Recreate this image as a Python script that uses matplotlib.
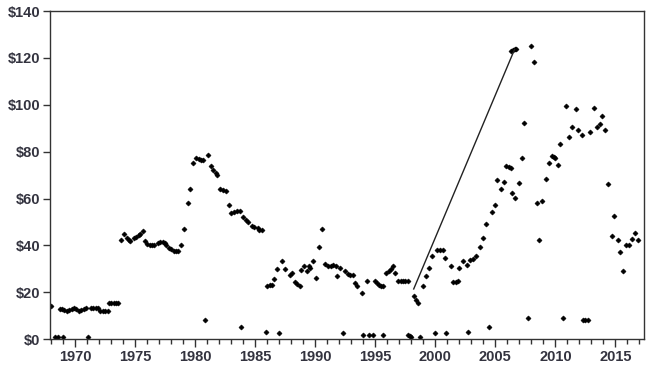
import matplotlib
matplotlib.use("Agg")
import matplotlib.pyplot as plt
from matplotlib.ticker import MultipleLocator, FuncFormatter

# Main price series (year, price in $)
years = [1968.0, 1968.7, 1968.9, 1969.1, 1969.3, 1969.5, 1969.7, 1969.9, 1970.1, 1970.3,
         1970.5, 1970.7, 1970.9, 1971.3, 1971.5, 1971.7, 1971.9, 1972.1, 1972.3, 1972.5,
         1972.7, 1972.8, 1973.0, 1973.2, 1973.4, 1973.6, 1973.85, 1974.1, 1974.3, 1974.5,
         1974.6, 1974.9, 1975.1, 1975.3, 1975.4, 1975.65, 1975.8, 1976.0, 1976.2, 1976.4,
         1976.6, 1976.9, 1977.1, 1977.3, 1977.5, 1977.6, 1977.8, 1978.0, 1978.2, 1978.4,
         1978.6, 1978.85, 1979.07, 1979.4, 1979.6, 1979.82, 1980.1, 1980.3, 1980.5, 1980.65,
         1981.07, 1981.35, 1981.5, 1981.7, 1981.8, 1982.1, 1982.3, 1982.6, 1982.8, 1983.0,
         1983.2, 1983.5, 1983.7, 1984.0, 1984.2, 1984.4, 1984.7, 1984.9, 1985.2, 1985.35,
         1985.6, 1986.0, 1986.2, 1986.4, 1986.6, 1986.8, 1987.25, 1987.5, 1987.9, 1988.1,
         1988.3, 1988.5, 1988.7, 1988.85, 1989.1, 1989.3, 1989.5, 1989.6, 1989.8, 1990.05,
         1990.3, 1990.55, 1990.8, 1991.05, 1991.3, 1991.5, 1991.7, 1991.85, 1992.05, 1992.5,
         1992.7, 1992.9, 1993.1, 1993.3, 1993.5, 1993.85, 1994.27, 1994.95, 1995.1, 1995.3,
         1995.5, 1995.65, 1995.9, 1996.1, 1996.3, 1996.5, 1996.6, 1996.9, 1997.1, 1997.3,
         1997.5, 1997.7, 1998.2, 1998.4, 1998.56, 1999.0, 1999.2, 1999.5, 1999.7, 2000.1,
         2000.4, 2000.65, 2000.8, 2001.3, 2001.5, 2001.7, 2001.9, 2002.0, 2002.3, 2002.6,
         2002.9, 2003.1, 2003.4, 2003.75, 2004.0, 2004.2, 2004.7, 2004.96, 2005.15, 2005.5,
         2005.7, 2005.9, 2006.1, 2006.3, 2006.4, 2006.6, 2006.3, 2006.45, 2006.6, 2006.7,
         2007.0, 2007.2, 2007.4, 2007.96, 2008.2, 2008.5, 2008.65, 2008.9, 2009.2, 2009.5,
         2009.7, 2009.85, 2010.0, 2010.2, 2010.4, 2010.9, 2011.15, 2011.4, 2011.7, 2011.9,
         2012.2, 2012.9, 2013.2, 2013.45, 2013.7, 2013.9, 2014.1, 2014.4, 2014.7, 2014.9,
         2015.2, 2015.4, 2015.65, 2015.9, 2016.1, 2016.35, 2016.6, 2016.9]
prices = [14, 13, 12.8, 12.3, 12, 12.3, 13, 13.2, 12.8, 12.2,
          12.4, 13, 13.3, 13.3, 13.4, 13.3, 13.1, 12.2, 12, 12,
          12.1, 15.2, 15.4, 15.4, 15.4, 15.3, 42.4, 45, 43, 42.5,
          41.7, 43, 43.6, 44.5, 45, 46.3, 41.7, 40.5, 40, 40,
          40.2, 41, 41.3, 41.3, 41, 40, 39, 38.4, 37.8, 37.8,
          37.8, 40, 47.1, 58.1, 64.1, 75.2, 77.5, 76.8, 76.5, 76.5,
          78.5, 73.8, 72, 71, 70, 64, 63.5, 63, 57.4, 54,
          54.2, 54.5, 54.5, 52, 51, 50, 48.4, 47.8, 47.4, 46.4,
          46.4, 22.5, 23, 23.2, 25.8, 30, 33.2, 30, 27.5, 28.3,
          24.2, 23.5, 22.8, 29.3, 31, 29.2, 31, 30.5, 33.2, 26,
          39.1, 47.1, 32, 31, 31.2, 31.5, 31.2, 27, 30.5, 29,
          28, 27.5, 27.3, 24, 22.5, 19.7, 25, 25, 24, 23,
          22.8, 22.8, 28.2, 29, 30, 31, 28.2, 25, 25, 25,
          25, 25, 18.2, 16.5, 15.6, 22.5, 26.8, 30.3, 35.3, 38.2,
          38.2, 38.2, 34.6, 31, 24.2, 24.5, 25, 30.3, 33.2, 31.7,
          33.9, 34.4, 35.3, 39.5, 43.2, 49.3, 54.1, 57.4, 68, 64.1,
          67, 74, 73.5, 73, 62.4, 60.3, 123, 123.5, 124, 123.8,
          66.7, 77.3, 92.3, 125.3, 118.3, 58, 42.1, 59, 68.4, 75.2,
          78.3, 77.8, 77.3, 74.2, 83.3, 99.4, 86.3, 90.4, 98.3, 89.4,
          87.3, 88.5, 98.7, 90.6, 91.6, 95.4, 89.4, 66.4, 44.1, 52.4,
          42.1, 37.2, 29.2, 40, 40, 42.9, 45.3, 42.1]

# Low-value points near the bottom
low_years = [1968.3, 1968.6, 1969.0, 1971.07, 1980.85, 1983.85, 1985.9, 1987.0, 1992.3, 1994.0,
             1994.5, 1994.8, 1995.65, 1997.7, 1997.9, 1998.0, 1998.7, 2000.0, 2000.9, 2002.7,
             2004.45, 2007.7, 2010.65, 2012.3, 2012.5, 2012.7]
low_prices = [0.9, 0.9, 0.9, 1.0, 8.0, 5.1, 3.2, 2.8, 2.8, 1.8,
              1.8, 1.8, 1.8, 1.8, 1.2, 0.9, 0.7, 2.8, 2.8, 2.9,
              5.0, 9.0, 9.0, 8.0, 8.0, 8.0]

# Connecting line
line_years = [1998.2, 2006.6]
line_prices = [21.4, 123.6]

fig = plt.figure(figsize=(6.5, 3.69), dpi=100)
ax = fig.add_axes([0.077, 0.081, 0.914, 0.889])

mk = dict(marker='D', linestyle='none', color='black', markersize=2.6, markeredgewidth=0.4)
ax.plot(years, prices, **mk)
ax.plot(low_years, low_prices, **mk)
ax.plot(line_years, line_prices, color='#222222', linewidth=1.0)

ax.set_xlim(1967.9, 2017.4)
ax.set_ylim(0, 140)
ax.xaxis.set_major_locator(MultipleLocator(5))
ax.xaxis.set_minor_locator(MultipleLocator(1))
ax.yaxis.set_major_locator(MultipleLocator(20))
ax.yaxis.set_major_formatter(FuncFormatter(lambda v, p: f"${int(v)}"))

for s in ax.spines.values():
    s.set_color('#333333')
    s.set_linewidth(1.0)
ax.tick_params(axis='both', which='both', direction='out', color='#333333', width=1.0,
               labelsize=10.5, labelcolor='#33333f')
ax.tick_params(axis='x', which='major', length=6, pad=2)
ax.tick_params(axis='x', which='minor', length=3.5)
ax.tick_params(axis='y', which='major', length=5, pad=2)
for lbl in ax.get_xticklabels() + ax.get_yticklabels():
    lbl.set_fontfamily('Liberation Sans')
    lbl.set_fontweight('bold')

fig.savefig("out.png", dpi=100)
